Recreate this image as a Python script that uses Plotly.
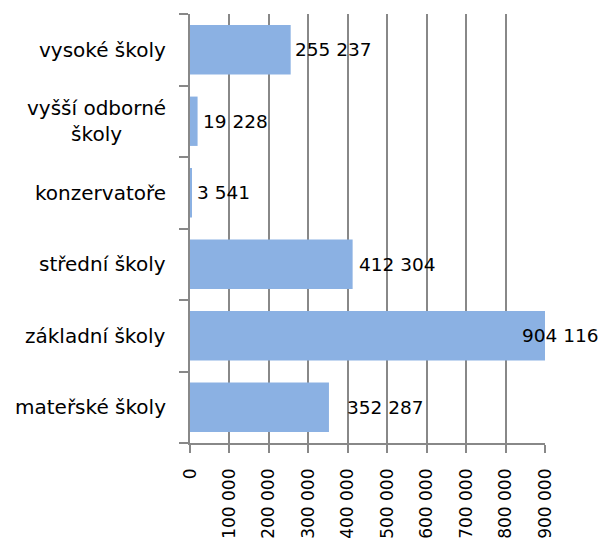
import plotly.graph_objects as go

categories = ["mateřské školy", "základní školy", "střední školy",
              "konzervatoře", "vyšší odborné<br>školy", "vysoké školy"]
values = [352287, 904116, 412304, 3541, 19228, 255237]
value_labels = ["352 287", "904 116", "412 304", "3 541", "19 228", "255 237"]
tick_vals = [0, 100000, 200000, 300000, 400000, 500000, 600000, 700000, 800000, 900000]
tick_text = ["0", "100 000", "200 000", "300 000", "400 000", "500 000",
             "600 000", "700 000", "800 000", "900 000"]
axis_max = 900000
label_shift = [16, -25, 4, 4, 3, 2]

FONT = "DejaVu Sans"
GRID = "#888888"

fig = go.Figure()
fig.add_trace(go.Bar(
    y=categories, x=values, orientation="h",
    marker=dict(color="#8bb1e3", line=dict(width=0)),
    hoverinfo="skip",
))

annotations = []
for c, v, t, s in zip(categories, values, value_labels, label_shift):
    annotations.append(dict(x=min(v, axis_max), y=c, xref="x", yref="y", text=t, showarrow=False,
                            xanchor="left", yanchor="middle", xshift=s,
                            font=dict(family=FONT, size=18.5, color="#000000")))
    annotations.append(dict(x=0, y=c, xref="paper", yref="y", text=c, showarrow=False,
                            xanchor="right", yanchor="middle", align="center", xshift=-22,
                            font=dict(family=FONT, size=20, color="#000000")))

fig.update_layout(
    width=602, height=542,
    margin=dict(l=190, r=57, t=14, b=99, autoexpand=False),
    paper_bgcolor="white", plot_bgcolor="white",
    showlegend=False,
    bargap=0.31,
    annotations=annotations,
    xaxis=dict(
        range=[0, axis_max], tickmode="array", tickvals=tick_vals, ticktext=tick_text,
        tickangle=-90, ticks="outside", ticklen=8, tickwidth=1.5, tickcolor=GRID,
        showgrid=True, gridcolor=GRID, gridwidth=1.5,
        showline=True, linecolor=GRID, linewidth=1.5,
        zeroline=False, fixedrange=True, automargin=False,
        tickfont=dict(family=FONT, size=17, color="#000000"),
        ticklabelstandoff=9,
    ),
    yaxis=dict(
        type="category", categoryorder="array", categoryarray=categories,
        showticklabels=False, ticks="outside", ticklen=9, tickwidth=1.5, tickcolor=GRID,
        tickson="boundaries", showgrid=False, automargin=False,
        showline=True, linecolor=GRID, linewidth=1.5, zeroline=False, fixedrange=True,
    ),
)

page_js = ("document.body.style.margin='0';"
           "document.body.style.overflow='hidden';"
           "document.documentElement.style.overflow='hidden';")
fig.write_html("out.html", post_script=page_js, config={"displayModeBar": False})
